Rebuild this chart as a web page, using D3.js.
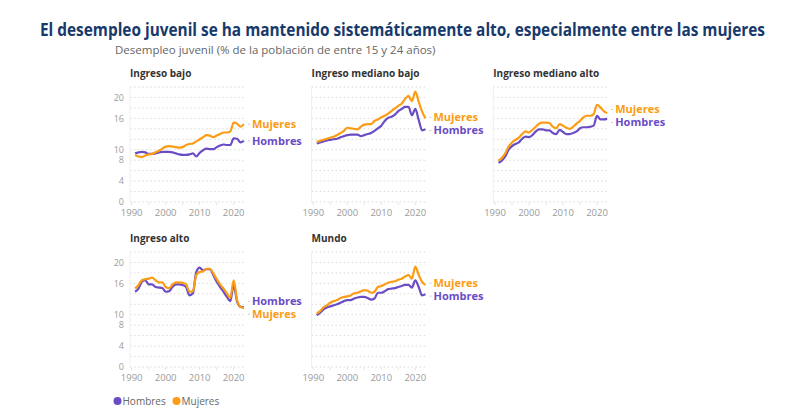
<!DOCTYPE html>
<head>
  <meta charset="utf-8">
  <script src="https://d3js.org/d3.v7.min.js"></script>
  <style>
    body { margin: 0; background: #fff; }
    text { font-family: "Open Sans", sans-serif; }
    .grid line { stroke: #d9d9d9; stroke-dasharray: 1.5,2.5; }
  </style>
</head>
<body>
<script>
  var width = 800;
  var height = 418;

  // data
  var years = d3.range(1991, 2024);
  var panelNames = ["Ingreso bajo", "Ingreso mediano bajo", "Ingreso mediano alto", "Ingreso alto", "Mundo"];
  var seriesNames = ["Hombres", "Mujeres"];
  var yTicks = [0, 4, 8, 10, 16, 20];
  var xTicks = [1990, 2000, 2010, 2020];

  var hombresBajo = [9.3,9.5,9.6,9.5,9.2,9.2,9.3,9.5,9.6,9.6, 9.6,9.5,9.3,9.1,9.0,9.0,9.1,9.3,8.7,9.4, 9.9,10.2,10.1,10.1,10.5,10.8,11.0,10.9,10.9,12.2, 12.1,11.4,11.7];
  var mujeresBajo = [9.0,8.7,8.6,8.9,9.1,9.2,9.5,9.8,10.2,10.6, 10.7,10.6,10.5,10.4,10.5,10.9,11.1,11.2,11.6,12.0, 12.4,12.8,12.7,12.4,12.7,13.0,13.3,13.3,13.5,15.2, 15.0,14.4,14.9];

  var hombresMedBajo = [11.2,11.4,11.6,11.8,11.9,12.0,12.1,12.4,12.6,12.8, 12.9,12.9,12.9,12.6,12.8,13.0,13.2,13.6,14.1,14.6, 15.5,16.1,16.3,16.7,17.4,17.8,18.2,18.2,16.6,17.8, 15.7,13.7,13.9];
  var mujeresMedBajo = [11.5,11.7,11.9,12.1,12.3,12.5,12.8,13.2,13.6,14.2, 14.1,14.0,13.9,14.4,14.8,14.9,14.9,15.5,15.8,16.2, 16.5,16.9,17.4,17.9,18.4,18.8,19.7,20.3,19.3,21.1, 19.2,17.3,16.0];

  var hombresMedAlto = [7.5,7.9,8.7,10.0,10.7,11.1,11.4,12.1,12.5,12.4, 12.8,13.5,13.9,13.9,13.7,13.7,13.2,13.0,13.8,13.4, 13.0,13.0,13.2,13.5,14.1,14.3,14.3,14.4,14.6,16.5, 15.8,15.8,15.9];
  var mujeresMedAlto = [7.9,8.4,9.3,10.6,11.4,11.9,12.3,13.0,13.5,13.3, 13.8,14.4,15.0,15.2,15.2,15.1,14.4,14.1,14.9,14.6, 14.2,14.0,14.4,15.0,15.5,16.2,16.5,16.5,16.8,18.6, 18.1,17.4,17.0];

  var hombresAlto = [14.4,15.0,16.3,16.6,15.8,15.8,15.3,15.2,15.1,14.4, 14.5,15.3,15.8,15.8,15.7,15.3,13.7,14.1,18.2,19.0, 18.5,18.7,18.7,17.6,16.3,15.3,14.4,13.4,12.6,15.7, 12.5,11.5,11.4];
  var mujeresAlto = [15.0,15.7,16.6,16.8,16.9,17.1,16.6,16.2,16.2,15.3, 15.1,15.8,16.2,16.2,16.1,15.8,14.4,14.5,17.6,18.2, 18.3,18.8,18.8,17.9,16.8,15.8,15.0,14.1,13.2,16.6, 12.8,11.5,11.3];

  var hombresMundo = [9.9,10.4,11.0,11.4,11.6,11.8,12.0,12.3,12.6,12.8, 12.8,13.1,13.3,13.4,13.4,13.2,12.9,13.1,14.2,14.2, 14.5,14.9,15.0,15.1,15.3,15.5,15.7,15.7,15.2,16.6, 15.3,13.7,13.9];
  var mujeresMundo = [10.2,10.7,11.4,11.8,12.3,12.6,12.8,13.2,13.4,13.5, 13.7,14.1,14.2,14.5,14.7,14.6,14.2,14.4,15.3,15.5, 15.8,16.1,16.3,16.4,16.7,16.9,17.3,17.6,16.9,19.2, 17.6,16.3,15.7];

  var hombres = [hombresBajo, hombresMedBajo, hombresMedAlto, hombresAlto, hombresMundo];
  var mujeres = [mujeresBajo, mujeresMedBajo, mujeresMedAlto, mujeresAlto, mujeresMundo];

  var colors = {Hombres: "#6a4cc4", Mujeres: "#fb9c14"};

  // layout
  var colX = [130, 311.6, 493.3];
  var rowTop = [87, 252];
  var plotW = 115.6, plotH = 115;

  var svg = d3.select("body").append("svg")
      .attr("width", width)
      .attr("height", height);

  svg.append("text")
    .attr("x", 40).attr("y", 36)
    .attr("textLength", 725).attr("lengthAdjust", "spacingAndGlyphs")
    .style("font-family", "'Liberation Sans Narrow', 'Open Sans', sans-serif")
    .style("font-size", "17px").style("font-weight", 700)
    .attr("fill", "#17396b")
    .text("El desempleo juvenil se ha mantenido sistemáticamente alto, especialmente entre las mujeres");

  svg.append("text")
    .attr("x", 115).attr("y", 54)
    .style("font-size", "11.5px")
    .attr("fill", "#666")
    .text("Desempleo juvenil (% de la población de entre 15 y 24 años)");

  panelNames.forEach(function (name, i) {
    var col = i % 3, row = Math.floor(i / 3);
    var x0 = colX[col], top = rowTop[row];
    var x = d3.scaleLinear().domain([1989.5, 2023.5]).range([x0, x0 + plotW]);
    var y = d3.scaleLinear().domain([0, 22]).range([top + plotH, top]);
    var g = svg.append("g");

    g.append("text")
      .attr("x", x0).attr("y", top - 10)
      .style("font-size", "10px").style("font-weight", 700)
      .attr("fill", "#333")
      .text(name);

    g.append("g").attr("class", "grid")
      .selectAll("line")
      .data(d3.range(0, 23, 2))
      .enter().append("line")
      .attr("x1", x0).attr("x2", x0 + plotW)
      .attr("y1", function (d) { return y(d); })
      .attr("y2", function (d) { return y(d); });

    // faint left axis line
    g.append("line")
      .attr("x1", x0).attr("x2", x0)
      .attr("y1", top).attr("y2", top + plotH)
      .attr("stroke", "#eceff4");

    // small ticks along the bottom
    g.selectAll(".xt")
      .data(d3.range(1990, 2024, 5))
      .enter().append("line")
      .attr("x1", function (d) { return x(d); })
      .attr("x2", function (d) { return x(d); })
      .attr("y1", top + plotH).attr("y2", top + plotH + 3)
      .attr("stroke", "#e3e3e3");

    if (col === 0) {
      g.selectAll(".yl")
        .data(yTicks)
        .enter().append("text")
        .attr("x", x0 - 6)
        .attr("y", function (d) { return y(d); })
        .attr("dy", "0.35em")
        .attr("text-anchor", "end")
        .style("font-size", "9px")
        .attr("fill", "#9a9a9a")
        .text(function (d) { return d; });
    }

    g.selectAll(".xl")
      .data(xTicks)
      .enter().append("text")
      .attr("x", function (d) { return x(d); })
      .attr("y", top + plotH + 14)
      .attr("text-anchor", "middle")
      .style("font-size", "9.5px")
      .attr("fill", "#9a9a9a")
      .text(function (d) { return d; });

    var line = d3.line()
      .x(function (d, k) { return x(years[k]); })
      .y(function (d) { return y(d); })
      .curve(d3.curveMonotoneX);

    var series = [
      {name: "Hombres", values: hombres[i]},
      {name: "Mujeres", values: mujeres[i]}
    ];

    series.forEach(function (s) {
      g.append("path")
        .attr("d", line(s.values))
        .attr("fill", "none")
        .attr("stroke", colors[s.name])
        .attr("stroke-width", 2.2)
        .attr("stroke-linejoin", "round");
    });

    // end labels with simple collision spacing
    var labs = series.map(function (s) {
      var v = s.values[s.values.length - 1];
      return {name: s.name, y0: y(v), y: y(v)};
    });
    labs.sort(function (a, b) { return a.y0 - b.y0; });
    var gap = 13;
    if (labs[1].y - labs[0].y < gap) {
      var mid = (labs[0].y + labs[1].y) / 2;
      labs[0].y = mid - gap / 2;
      labs[1].y = mid + gap / 2;
    }
    var xEnd = x(years[years.length - 1]);
    labs.forEach(function (l) {
      g.append("line")
        .attr("x1", xEnd + 4).attr("x2", xEnd + 6)
        .attr("y1", l.y).attr("y2", l.y)
        .attr("stroke", "#c8c8c8").attr("stroke-width", 1);
      g.append("text")
        .attr("x", xEnd + 8).attr("y", l.y)
        .attr("dy", "0.35em")
        .style("font-size", "11px").style("font-weight", 700)
        .attr("fill", colors[l.name])
        .text(l.name);
    });
  });

  // legend
  var legend = svg.append("g");
  var legX = [117.5, 176.5];
  seriesNames.forEach(function (n, k) {
    legend.append("circle")
      .attr("cx", legX[k]).attr("cy", 401).attr("r", 4)
      .attr("fill", colors[n]);
    legend.append("text")
      .attr("x", legX[k] + 5).attr("y", 401)
      .attr("dy", "0.35em")
      .style("font-size", "10px")
      .attr("fill", "#666")
      .text(n);
  });
</script>
</body>
